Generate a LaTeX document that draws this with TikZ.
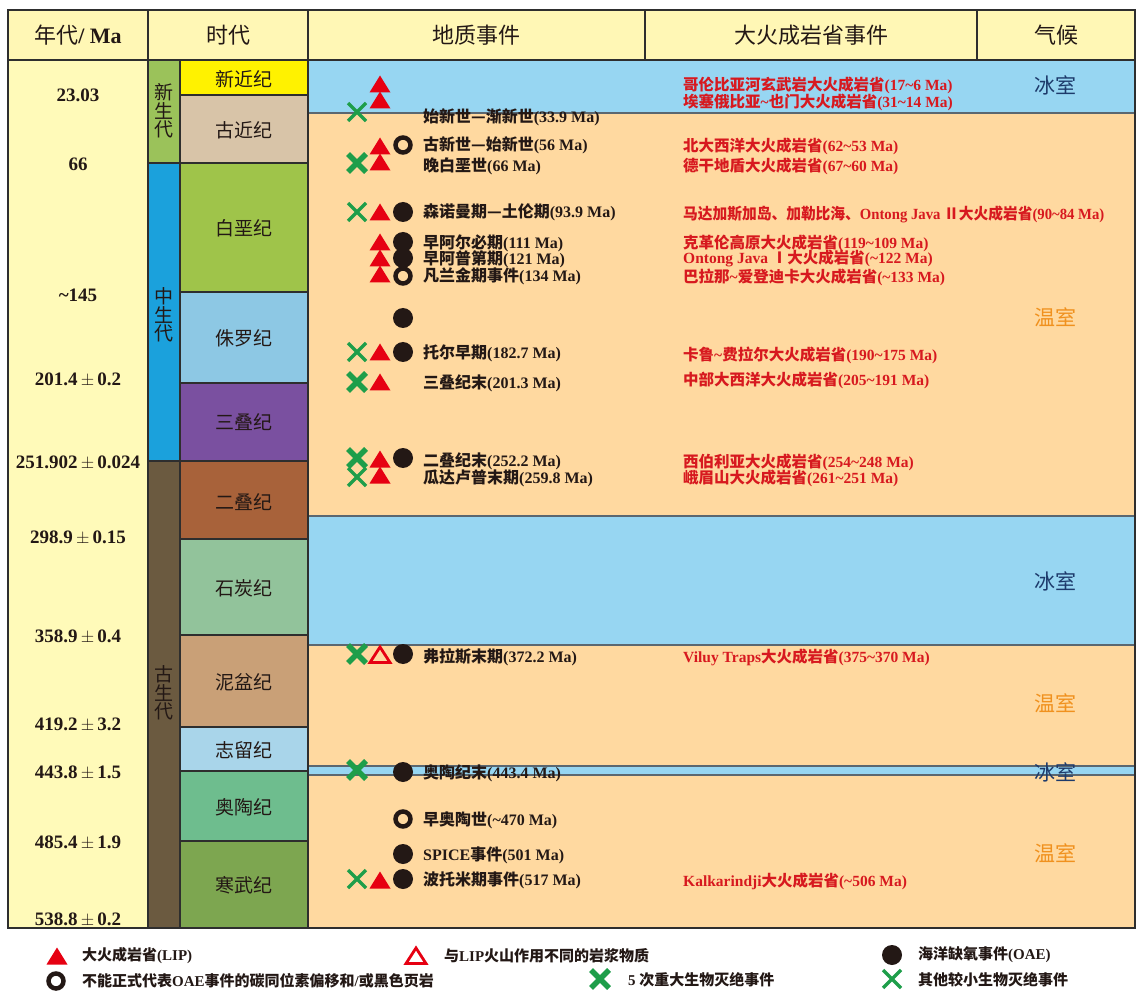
\documentclass[tikz,border=0pt]{standalone}
\usepackage{fontspec}
\setmainfont{Liberation Serif}
\newfontfamily\cjk{Noto Sans CJK SC}
\newcommand\zh[1]{{\cjk #1}}
\newcommand\mytilde{\textasciitilde}
\definecolor{chdr}{HTML}{FFF7B5}
\definecolor{cage}{HTML}{FFFAB9}
\definecolor{cice}{HTML}{97D6F2}
\definecolor{cwarm}{HTML}{FFD9A0}
\definecolor{cgrid}{HTML}{2E2E2E}
\definecolor{cband}{HTML}{5B6770}
\definecolor{ccen}{HTML}{9BC25A}
\definecolor{cmes}{HTML}{1BA1DC}
\definecolor{cpal}{HTML}{6B5A40}
\definecolor{pneo}{HTML}{FFF200}
\definecolor{ppal}{HTML}{D8C4A8}
\definecolor{pcre}{HTML}{9FC44A}
\definecolor{pjur}{HTML}{8DC8E4}
\definecolor{ptri}{HTML}{7A50A0}
\definecolor{pper}{HTML}{A8623A}
\definecolor{pcar}{HTML}{92C39B}
\definecolor{pdev}{HTML}{C9A077}
\definecolor{psil}{HTML}{A9D5EA}
\definecolor{pord}{HTML}{6EBD8E}
\definecolor{pcam}{HTML}{7DA650}
\definecolor{lipred}{HTML}{E60012}
\definecolor{liptxt}{HTML}{D7191F}
\definecolor{oaeblk}{HTML}{231815}
\definecolor{xgreen}{HTML}{1E9E4A}
\definecolor{txtblk}{HTML}{231815}
\definecolor{icetxt}{HTML}{1D3A6B}
\definecolor{warmtxt}{HTML}{F0911E}
\begin{document}
\begin{tikzpicture}[x=1pt,y=-1pt,
  gridl/.style={draw=cgrid,line width=1.5pt},
  bandl/.style={draw=cband,line width=1.2pt},
  evt/.style={anchor=west,inner sep=0pt,text=txtblk,font=\fontsize{16}{17}\selectfont\bfseries},
  lipt/.style={anchor=west,inner sep=0pt,text=liptxt,font=\fontsize{15.5}{16}\selectfont\bfseries},
  agelab/.style={inner sep=0pt,text=txtblk,font=\fontsize{19}{20}\selectfont\bfseries},
  perlab/.style={inner sep=0pt,text=txtblk,font=\cjk\fontsize{19}{20}\selectfont},
  eralab/.style={inner sep=0pt,align=center,text=txtblk,font=\cjk\fontsize{19}{18.5}\selectfont},
  hdrlab/.style={inner sep=0pt,text=txtblk,font=\fontsize{22}{24}\selectfont},
  icelab/.style={inner sep=0pt,text=icetxt,font=\cjk\fontsize{21}{22}\selectfont},
  warmlab/.style={inner sep=0pt,text=warmtxt,font=\cjk\fontsize{21}{22}\selectfont},
  leglab/.style={anchor=west,inner sep=0pt,text=txtblk,font=\fontsize{15}{16}\selectfont\bfseries},
  lip/.pic={\fill[lipred] (-10.5,8.5) -- (10.5,8.5) -- (0,-8.5) -- cycle;},
  lipo/.pic={\draw[lipred,line width=2.8pt,line join=miter] (-10,7.5) -- (10,7.5) -- (0,-8) -- cycle;},
  oae/.pic={\fill[oaeblk] (0,0) circle (10pt);},
  oaeo/.pic={\draw[oaeblk,line width=4.5pt] (0,0) circle (7.5pt);},
  xbig/.pic={\draw[xgreen,line width=5.5pt] (-9,-9) -- (9,9) (-9,9) -- (9,-9);},
  xsmall/.pic={\draw[xgreen,line width=3.3pt] (-9,-9) -- (9,9) (-9,9) -- (9,-9);}
]
\useasboundingbox (0,0) rectangle (1136,992);
\fill[white] (0,0) rectangle (1136,992);
% header and columns
\fill[chdr] (8,10) rectangle (1135,60);
\fill[cage] (8,60) rectangle (148,928);
% climate bands
\fill[cice] (308,60) rectangle (1135,113);
\fill[cwarm] (308,113) rectangle (1135,516);
\fill[cice] (308,516) rectangle (1135,645);
\fill[cwarm] (308,645) rectangle (1135,766);
\fill[cice] (308,766) rectangle (1135,775);
\fill[cwarm] (308,775) rectangle (1135,928);
\foreach \yy in {113,516,645,766,775} \draw[bandl] (308,\yy) -- (1135,\yy);
% eras
\draw[gridl,fill=ccen] (148,60) rectangle (180,163);
\draw[gridl,fill=cmes] (148,163) rectangle (180,461);
\draw[gridl,fill=cpal] (148,461) rectangle (180,928);
% periods
\draw[gridl,fill=pneo] (180,60) rectangle (308,95);
\draw[gridl,fill=ppal] (180,95) rectangle (308,163);
\draw[gridl,fill=pcre] (180,163) rectangle (308,292);
\draw[gridl,fill=pjur] (180,292) rectangle (308,383);
\draw[gridl,fill=ptri] (180,383) rectangle (308,461);
\draw[gridl,fill=pper] (180,461) rectangle (308,539);
\draw[gridl,fill=pcar] (180,539) rectangle (308,635);
\draw[gridl,fill=pdev] (180,635) rectangle (308,727);
\draw[gridl,fill=psil] (180,727) rectangle (308,771);
\draw[gridl,fill=pord] (180,771) rectangle (308,841);
\draw[gridl,fill=pcam] (180,841) rectangle (308,928);
% grid
\draw[gridl] (8,10) rectangle (1135,928);
\draw[gridl] (8,60) -- (1135,60);
\draw[gridl] (148,10) -- (148,928);
\draw[gridl] (308,10) -- (308,928);
\draw[gridl] (645,10) -- (645,60);
\draw[gridl] (977,10) -- (977,60);
% headers
\node[hdrlab] (h1) at (78,35) {\zh{年代}\bfseries/ Ma};
\node[hdrlab] (h2) at (228,35) {\zh{时代}};
\node[hdrlab] (h3) at (476,35) {\zh{地质事件}};
\node[hdrlab] (h4) at (811,35) {\zh{大火成岩省事件}};
\node[hdrlab] (h5) at (1056,35) {\zh{气候}};
% ages
\node[agelab] (a1) at (78,95) {23.03};
\node[agelab] (a2) at (78,164) {66};
\node[agelab] (a3) at (78,295) {\mytilde145};
\node[agelab] (a4) at (78,380) {201.4\,$\pm$\,0.2};
\node[agelab] (a5) at (78,463) {251.902\,$\pm$\,0.024};
\node[agelab] (a6) at (78,538) {298.9\,$\pm$\,0.15};
\node[agelab] (a7) at (78,637) {358.9\,$\pm$\,0.4};
\node[agelab] (a8) at (78,725) {419.2\,$\pm$\,3.2};
\node[agelab] (a9) at (78,773) {443.8\,$\pm$\,1.5};
\node[agelab] (a10) at (78,843) {485.4\,$\pm$\,1.9};
\node[agelab] (a11) at (78,920) {538.8\,$\pm$\,0.2};
% eras text
\node[eralab] (r1) at (164,111) {新\\生\\代};
\node[eralab] (r2) at (164,315) {中\\生\\代};
\node[eralab] (r3) at (164,693) {古\\生\\代};
% periods text
\node[perlab] (p1) at (244,79) {新近纪};
\node[perlab] (p2) at (244,130) {古近纪};
\node[perlab] (p3) at (244,228) {白垩纪};
\node[perlab] (p4) at (244,338) {侏罗纪};
\node[perlab] (p5) at (244,422) {三叠纪};
\node[perlab] (p6) at (244,502) {二叠纪};
\node[perlab] (p7) at (244,588) {石炭纪};
\node[perlab] (p8) at (244,682) {泥盆纪};
\node[perlab] (p9) at (244,750) {志留纪};
\node[perlab] (p10) at (244,807) {奥陶纪};
\node[perlab] (p11) at (244,885) {寒武纪};
% event symbols
\pic at (380,84) {lip};
\pic at (380,100) {lip};
\pic at (357,112) {xsmall};
\pic at (380,146) {lip};
\pic at (403,145) {oaeo};
\pic at (357,163) {xbig};
\pic at (380,162) {lip};
\pic at (357,212) {xsmall};
\pic at (380,212) {lip};
\pic at (403,212) {oae};
\pic at (380,242) {lip};
\pic at (403,242) {oae};
\pic at (380,258) {lip};
\pic at (403,258) {oae};
\pic at (380,274) {lip};
\pic at (403,276) {oaeo};
\pic at (403,318) {oae};
\pic at (357,352) {xsmall};
\pic at (380,352) {lip};
\pic at (403,352) {oae};
\pic at (357,382) {xbig};
\pic at (380,382) {lip};
\pic at (357,458) {xbig};
\pic at (380,459) {lip};
\pic at (403,458) {oae};
\pic at (357,477) {xsmall};
\pic at (380,475) {lip};
\pic at (357,654) {xbig};
\pic at (380,655) {lipo};
\pic at (403,654) {oae};
\pic at (357,770) {xbig};
\pic at (403,772) {oae};
\pic at (403,819) {oaeo};
\pic at (403,854) {oae};
\pic at (357,879) {xsmall};
\pic at (380,880) {lip};
\pic at (403,879) {oae};
% event labels
\node[evt] (e1) at (423,117) {\zh{始新世—渐新世}(33.9 Ma)};
\node[evt] (e2) at (423,145) {\zh{古新世—始新世}(56 Ma)};
\node[evt] (e3) at (423,166) {\zh{晚白垩世}(66 Ma)};
\node[evt] (e4) at (423,212) {\zh{森诺曼期—土伦期}(93.9 Ma)};
\node[evt] (e5) at (423,243) {\zh{早阿尔必期}(111 Ma)};
\node[evt] (e6) at (423,259) {\zh{早阿普第期}(121 Ma)};
\node[evt] (e7) at (423,276) {\zh{凡兰金期事件}(134 Ma)};
\node[evt] (e8) at (423,353) {\zh{托尔早期}(182.7 Ma)};
\node[evt] (e9) at (423,383) {\zh{三叠纪末}(201.3 Ma)};
\node[evt] (e10) at (423,461) {\zh{二叠纪末}(252.2 Ma)};
\node[evt] (e11) at (423,478) {\zh{瓜达卢普末期}(259.8 Ma)};
\node[evt] (e12) at (423,657) {\zh{弗拉斯末期}(372.2 Ma)};
\node[evt] (e13) at (423,773) {\zh{奥陶纪末}(443.4 Ma)};
\node[evt] (e14) at (423,820) {\zh{早奥陶世}(\mytilde470 Ma)};
\node[evt] (e15) at (423,855) {SPICE\zh{事件}(501 Ma)};
\node[evt] (e16) at (423,880) {\zh{波托米期事件}(517 Ma)};
% LIP labels
\node[lipt] (l1) at (683,85) {\zh{哥伦比亚河玄武岩大火成岩省}(17\mytilde6 Ma)};
\node[lipt] (l2) at (683,102) {\zh{埃塞俄比亚}\mytilde\zh{也门大火成岩省}(31\mytilde14 Ma)};
\node[lipt] (l3) at (683,146) {\zh{北大西洋大火成岩省}(62\mytilde53 Ma)};
\node[lipt] (l4) at (683,166) {\zh{德干地盾大火成岩省}(67\mytilde60 Ma)};
\node[lipt] (l5) at (683,214) {\scalebox{0.95}[1]{\zh{马达加斯加岛、加勒比海、}Ontong Java \zh{Ⅱ大火成岩省}(90\mytilde84 Ma)}};
\node[lipt] (l6) at (683,243) {\zh{克革伦高原大火成岩省}(119\mytilde109 Ma)};
\node[lipt] (l7) at (683,258) {Ontong Java \zh{Ⅰ大火成岩省}(\mytilde122 Ma)};
\node[lipt] (l8) at (683,277) {\zh{巴拉那}\mytilde\zh{爱登迪卡大火成岩省}(\mytilde133 Ma)};
\node[lipt] (l9) at (683,355) {\zh{卡鲁}\mytilde\zh{费拉尔大火成岩省}(190\mytilde175 Ma)};
\node[lipt] (l10) at (683,380) {\zh{中部大西洋大火成岩省}(205\mytilde191 Ma)};
\node[lipt] (l11) at (683,462) {\zh{西伯利亚大火成岩省}(254\mytilde248 Ma)};
\node[lipt] (l12) at (683,478) {\zh{峨眉山大火成岩省}(261\mytilde251 Ma)};
\node[lipt] (l13) at (683,657) {Viluy Traps\zh{大火成岩省}(375\mytilde370 Ma)};
\node[lipt] (l14) at (683,881) {Kalkarindji\zh{大火成岩省}(\mytilde506 Ma)};
% climate labels
\node[icelab] (c1) at (1055,85) {冰室};
\node[warmlab] (c2) at (1055,317) {温室};
\node[icelab] (c3) at (1055,581) {冰室};
\node[warmlab] (c4) at (1055,703) {温室};
\node[icelab] (c5) at (1055,772) {冰室};
\node[warmlab] (c6) at (1055,853) {温室};
% legend
\pic at (57,956) {lip};
\node[leglab] (g1) at (82,956) {\zh{大火成岩省}(LIP)};
\pic at (416,956) {lipo};
\node[leglab] (g2) at (444,956) {\zh{与}LIP\zh{火山作用不同的岩浆物质}};
\pic at (892,955) {oae};
\node[leglab] (g3) at (918,955) {\zh{海洋缺氧事件}(OAE)};
\pic at (56,981) {oaeo};
\node[leglab] (g4) at (82,981) {\zh{不能正式代表}OAE\zh{事件的碳同位素偏移和}/\zh{或黑色页岩}};
\pic at (600,979) {xbig};
\node[leglab] (g5) at (628,980) {5 \zh{次重大生物灭绝事件}};
\pic at (892,979) {xsmall};
\node[leglab] (g6) at (918,980) {\zh{其他较小生物灭绝事件}};
\end{tikzpicture}
\end{document}
